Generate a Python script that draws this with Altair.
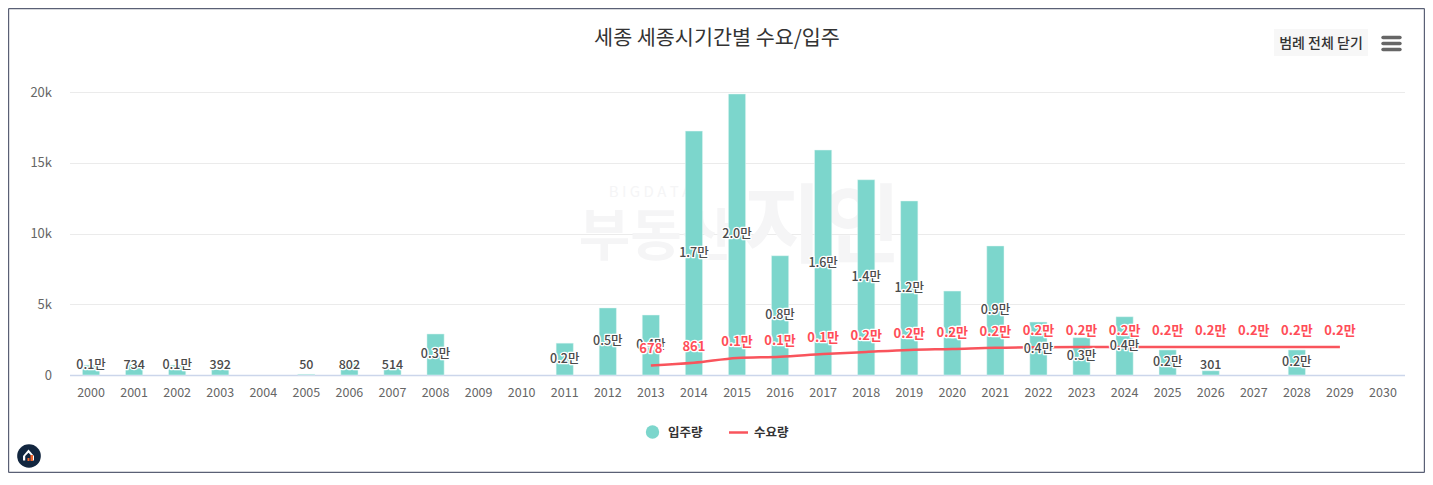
import altair as alt
import pandas as pd

FONT = "Noto Sans CJK KR"
years = [str(y) for y in range(2000, 2031)]
supply = [700, 734, 700, 392, None, 50, 802, 514, 2900, None, None, 2250, 4740, 4240, 17240, 19860,
          8430, 15900, 13800, 12300, 5930, 9120, 3740, 2640, 4120, 1770, 301, None, 1770, None, None]
supply_labels = ["0.1만", "734", "0.1만", "392", "", "50", "802", "514", "0.3만", "", "", "0.2만", "0.5만", "0.4만",
                 "1.7만", "2.0만", "0.8만", "1.6만", "1.4만", "1.2만", "0.6만", "0.9만", "0.4만", "0.3만", "0.4만",
                 "0.2만", "301", "", "0.2만", "", ""]
demand_years = [str(y) for y in range(2013, 2030)]
demand = [678, 861, 1200, 1290, 1480, 1630, 1770, 1840, 1930, 1960, 1970, 1970, 1970, 1970, 1970, 1970, 1970]
demand_labels = ["678", "861", "0.1만", "0.1만", "0.1만", "0.2만", "0.2만", "0.2만", "0.2만",
                 "0.2만", "0.2만", "0.2만", "0.2만", "0.2만", "0.2만", "0.2만", "0.2만"]
LABEL_FLOOR = 720

LEFT, TOP, W, H = 69.5, 92, 1335, 283
TOTAL_W, TOTAL_H = 1417, 465
TEAL, RED, DARK = "#7CD6CC", "#F9545C", "#4A4A4A"

sdf = pd.DataFrame({"year": years, "v": supply, "label": supply_labels})
sdf = sdf[sdf.label != ""].copy()
sdf["anchor"] = [max(v / 2, LABEL_FLOOR) for v in sdf.v]
ddf = pd.DataFrame({"year": demand_years, "v": demand, "label": demand_labels})
ddf["anchor"] = ddf.v
all_years = pd.DataFrame({"year": years, "v": [0] * len(years)})

xscale = alt.Scale(domain=years, paddingInner=0.6, paddingOuter=0.3)
yscale = alt.Scale(domain=[0, 20000], nice=False)
xaxis = alt.Axis(labelAngle=0, labelFont=FONT, labelFontSize=12.5, labelColor="#666666", labelPadding=11,
                 ticks=False, domainColor="#CCD6EB", domainWidth=1.5, grid=False)
yaxis = alt.Axis(values=[0, 5000, 10000, 15000, 20000],
                 labelExpr="datum.value === 0 ? '0' : (datum.value / 1000) + 'k'",
                 labelFont=FONT, labelFontSize=13, labelColor="#666666", labelPadding=18,
                 ticks=False, domain=False, gridColor="#EBEBEB")
X = alt.X("year:N", scale=xscale, sort=years, title=None, axis=xaxis)
Y = alt.Y("v:Q", scale=yscale, title=None, axis=yaxis)
YA = alt.Y("anchor:Q", scale=yscale, title=None, axis=yaxis)
one = alt.Data(values=[{"k": 1}])


def px(v):
    return alt.value(v - LEFT)


def py(v):
    return alt.value(v - TOP)


def text(s, x, y, size, color, weight=400, align="center", **kw):
    return alt.Chart(one).mark_text(font=FONT, fontSize=size, color=color, fontWeight=weight, align=align,
                                    baseline="middle", **kw).encode(x=px(x), y=py(y), text=alt.value(s))


def rect(x0, x1, y0, y1, color, **kw):
    return alt.Chart(one).mark_rect(color=color, **kw).encode(x=px(x0), x2=px(x1), y=py(y0), y2=py(y1))


def hline(x0, x1, y, color, w, cap="butt"):
    return alt.Chart(one).mark_rule(color=color, strokeWidth=w, strokeCap=cap).encode(x=px(x0), x2=px(x1), y=py(y))


def vline(x, y0, y1, color, w):
    return alt.Chart(one).mark_rule(color=color, strokeWidth=w).encode(x=px(x), y=py(y0), y2=py(y1))


WM = "#F5F5F6"
watermark = [
    text("B I G D A T A", 650, 192, 15, WM, 400),
    text("부동산", 656, 238, 56, WM, 700),
    text("지인", 822, 230, 86, WM, 700),
]

axes = alt.Chart(all_years).mark_point(opacity=0).encode(x=X, y=Y)
bars = alt.Chart(sdf).mark_bar(color=TEAL, stroke="#E6F7F5", strokeWidth=0.5).encode(x=X, y=Y)
line = alt.Chart(ddf).mark_line(color=RED, strokeWidth=2.5, interpolate="monotone").encode(x=X, y=Y)


def labels(df, color, dy=0, size=12.5, weight=500):
    enc = dict(x=X, y=YA, text="label:N")
    common = dict(font=FONT, fontSize=size, fontWeight=weight, baseline="middle", dy=dy)
    halo = alt.Chart(df).mark_text(color="white", stroke="white", strokeWidth=2.6, strokeJoin="round",
                                   **common).encode(**enc)
    top = alt.Chart(df).mark_text(color=color, **common).encode(**enc)
    return [halo, top]


legend = [
    alt.Chart(one).mark_point(filled=True, color=TEAL, size=180, opacity=1).encode(x=px(652.5), y=py(432)),
    text("입주량", 668, 432.5, 12.5, "#333333", 700, align="left"),
    hline(729, 748, 432.5, RED, 2.5),
    text("수요량", 754, 432.5, 12.5, "#333333", 700, align="left"),
]

button = [
    rect(1274, 1368, 29, 56, "#F7F7F7"),
    text("범례 전체 닫기", 1321, 44, 14, "#333333", 500),
    hline(1383, 1400, 37.5, "#666666", 3.4, "round"),
    hline(1383, 1400, 43.5, "#666666", 3.4, "round"),
    hline(1383, 1400, 49.5, "#666666", 3.4, "round"),
]

logo = [
    alt.Chart(one).mark_point(filled=True, color="#12263F", size=560, opacity=1).encode(x=px(29), y=py(456)),
    alt.Chart(one).mark_point(filled=True, color="white", opacity=1, size=120,
                              shape="M-1 0.2 L0 -1 L1 0.2 L1 1 L0.6 1 L0.6 0.2 L0 -0.4 L-0.6 0.2 L-0.6 1 L-1 1 Z"
                              ).encode(x=px(28.5), y=py(455)),
    rect(27.5, 29.5, 458, 461, "#F0642D"),
    rect(30.5, 33, 455, 461, "#F0642D"),
]

FX0, FX1, FY0, FY1 = 8.6, 8 + TOTAL_W - 0.6, 8.6, 8 + TOTAL_H - 0.6
frame = [
    hline(FX0, FX1, FY0, "#5A6075", 1.2),
    hline(FX0, FX1, FY1, "#5A6075", 1.2),
    vline(FX0, FY0, FY1, "#5A6075", 1.2),
    vline(FX1, FY0, FY1, "#5A6075", 1.2),
]

layers = (watermark + [axes, bars, line] + labels(sdf, DARK) + labels(ddf, "#FF4D57", dy=-16, size=13, weight=700)
          + legend + button + logo + frame)

pad_l = LEFT - 8
pad_t = TOP - 8
chart = alt.layer(*layers).properties(
    width=W, height=H,
    autosize=alt.AutoSizeParams(type="none"),
    padding={"left": pad_l, "top": pad_t, "right": TOTAL_W - pad_l - W, "bottom": TOTAL_H - pad_t - H},
    title=alt.TitleParams("세종 세종시기간별 수요/입주", font=FONT, fontSize=20.7, fontWeight=400, color="#333333",
                          anchor="middle", dx=-20, offset=-42),
).configure_view(stroke=None)

chart.save("out.html", embed_options={"renderer": "svg", "actions": False})
